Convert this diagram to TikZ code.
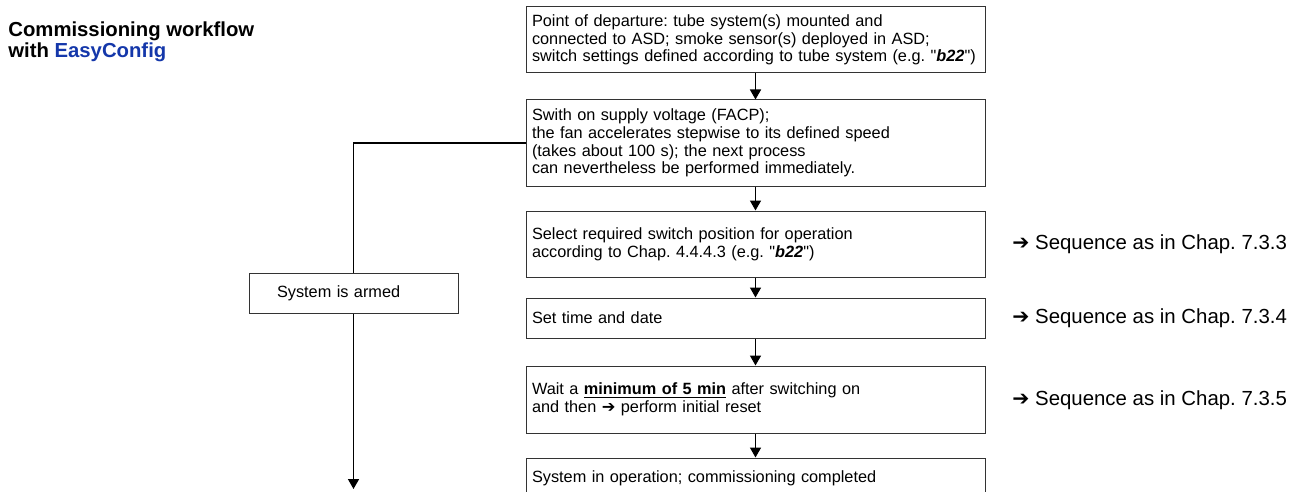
\documentclass[tikz,border=0pt]{standalone}
\usepackage{fontspec}
\setmainfont{Liberation Sans}[Ligatures=TeXOff]
\newfontfamily\arrowsym{DejaVu Sans}
\usetikzlibrary{positioning, arrows.meta, calc}
\definecolor{easyblue}{RGB}{20, 55, 170}
\newcommand{\rarrow}{{\arrowsym ➔}}
\frenchspacing

\begin{document}
\begin{tikzpicture}[x=0.5pt, y=-0.5pt,
  stepbox/.style={draw=black!80, line width=0.5pt, align=left, text width=223.5pt, inner xsep=3pt, inner ysep=0pt, minimum height=#1, font=\fontsize{8.15}{8.85}\selectfont},
  armedbox/.style={draw=black!80, line width=0.5pt, align=left, text width=76.5pt, inner xsep=14pt, inner ysep=0pt, minimum height=20pt, font=\fontsize{8.15}{8.85}\selectfont},
  note/.style={anchor=west, inner sep=0pt, font=\fontsize{10.2}{12}\selectfont},
  flow/.style={-{Triangle[length=5pt, width=5.5pt]}, line width=0.8pt}]
\useasboundingbox (0,0) rectangle (1306,492);

% title
\node[anchor=north west, inner sep=0pt, align=left, font=\bfseries\fontsize{10.15}{10.5}\selectfont] (title) at (8,21) {Commissioning workflow\\ with \textcolor{easyblue}{EasyConfig}};

% main sequence
\node[stepbox=33pt] (depart) at (755.5,40) {Point of departure: tube system(s) mounted and\\ connected to ASD; smoke sensor(s) deployed in ASD;\\ switch settings defined according to tube system (e.g. "\textbf{\textit{b22}}")};
\node[stepbox=43pt] (switchon) at (755.5,143) {Swith on supply voltage (FACP);\\ the fan accelerates stepwise to its defined speed\\ (takes about 100 s); the next process\\ can nevertheless be performed immediately.};
\node[stepbox=33pt] (position) at (755.5,244) {Select required switch position for operation\\ according to Chap. 4.4.4.3 (e.g. "\textbf{\textit{b22}}")};
\node[stepbox=20pt] (timedate) at (755.5,318) {Set time and date};
\node[stepbox=33.5pt] (reset) at (755.5,399.5) {Wait a \underline{\textbf{minimum of 5 min}} after switching on\\ and then \rarrow{} perform initial reset};
\node[stepbox=20pt] (operation) at (755.5,478) {System in operation; commissioning completed};

% side notes
\node[note] (seq3) at (1012,244) {\rarrow{} Sequence as in Chap. 7.3.3};
\node[note] (seq4) at (1012,318) {\rarrow{} Sequence as in Chap. 7.3.4};
\node[note] (seq5) at (1012,400) {\rarrow{} Sequence as in Chap. 7.3.5};

% branch
\node[armedbox] (armed) at (353.5,293) {System is armed};
\coordinate (armedend) at (353.5,489);

\draw[flow] (depart) -- (switchon);
\draw[flow] (switchon) -- (position);
\draw[flow] (position) -- (timedate);
\draw[flow] (timedate) -- (reset);
\draw[flow] (reset) -- (operation);
\draw[line width=0.8pt] (switchon.west) -| (armed.north);
\draw[flow] (armed.south) -- (armedend);
\end{tikzpicture}
\end{document}
